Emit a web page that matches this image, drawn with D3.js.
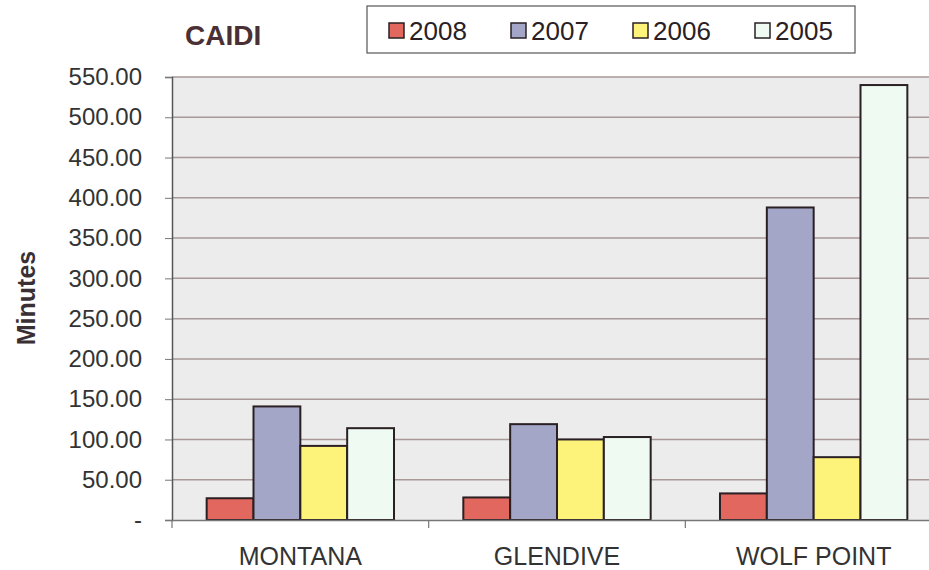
<!DOCTYPE html>
<html>
<head>
<meta charset="utf-8">
<script src="https://cdn.jsdelivr.net/npm/d3@7"></script>
<style>
  body { margin: 0; background: #fff; }
  text { font-family: "Liberation Sans", Arial, sans-serif; }
</style>
</head>
<body>
<svg id="chart"></svg>
<script>
var width = 929;
var height = 570;

var categories = ['MONTANA', 'GLENDIVE', 'WOLF POINT'];
var seriesNames = ['2008', '2007', '2006', '2005'];
var values2008 = [27, 28, 33];
var values2007 = [141, 119, 388];
var values2006 = [92, 100, 78];
var values2005 = [114, 103, 540];
var yTicks = [0, 50, 100, 150, 200, 250, 300, 350, 400, 450, 500, 550];

var seriesValues = [values2008, values2007, values2006, values2005];
var colors = ['#e2675f', '#a3a6c7', '#fdf27a', '#eefaf2'];

var plot = {left: 172, right: 942, top: 77, bottom: 520};

var svg = d3.select('#chart')
  .attr('width', width)
  .attr('height', height);

// plot background
svg.append('rect')
  .attr('x', plot.left)
  .attr('y', plot.top)
  .attr('width', plot.right - plot.left)
  .attr('height', plot.bottom - plot.top)
  .attr('fill', '#ececec');

var x = d3.scaleBand()
  .domain(categories)
  .range([plot.left, plot.right]);

var xInner = d3.scaleBand()
  .domain(seriesNames)
  .range([0, x.bandwidth()])
  .paddingOuter(0.74);

var y = d3.scaleLinear()
  .domain([0, 550])
  .range([plot.bottom, plot.top]);

// gridlines
svg.append('g')
  .selectAll('line')
  .data(yTicks.slice(1))
  .enter().append('line')
  .attr('x1', plot.left)
  .attr('x2', plot.right)
  .attr('y1', function (d) { return y(d); })
  .attr('y2', function (d) { return y(d); })
  .attr('stroke', '#a89898')
  .attr('stroke-width', 1.5);

// bars
var groups = svg.append('g')
  .selectAll('g')
  .data(categories)
  .enter().append('g')
  .attr('transform', function (d) { return 'translate(' + x(d) + ',0)'; });

groups.selectAll('rect')
  .data(function (d, i) {
      return seriesNames.map(function (s, j) {
          return {series: s, value: seriesValues[j][i], color: colors[j]};
      });
  })
  .enter().append('rect')
  .attr('x', function (d) { return xInner(d.series); })
  .attr('width', xInner.bandwidth())
  .attr('y', function (d) { return y(d.value); })
  .attr('height', function (d) { return y(0) - y(d.value); })
  .attr('fill', function (d) { return d.color; })
  .attr('stroke', '#2a2024')
  .attr('stroke-width', 2);

// y axis
var yAxis = svg.append('g')
  .attr('transform', 'translate(' + plot.left + ',0)')
  .call(d3.axisLeft(y)
    .tickValues(yTicks)
    .tickSize(7)
    .tickPadding(23)
    .tickFormat(function (d) { return d === 0 ? '-' : d3.format('.2f')(d); }));
yAxis.select('.domain').attr('stroke', '#555').attr('stroke-width', 1.5);
yAxis.selectAll('.tick line').attr('stroke', '#777');
yAxis.selectAll('.tick text')
  .attr('font-size', 24)
  .attr('fill', '#333')
  .style('font-family', '"Liberation Sans", Arial, sans-serif');

// x axis
var xAxis = svg.append('g')
  .attr('transform', 'translate(0,' + plot.bottom + ')')
  .call(d3.axisBottom(x).tickSize(0).tickPadding(27));
xAxis.select('.domain').attr('stroke', '#777').attr('stroke-width', 1.5);
xAxis.selectAll('.tick text')
  .attr('font-size', 25)
  .attr('fill', '#333')
  .style('font-family', '"Liberation Sans", Arial, sans-serif');

// category separators
svg.append('g')
  .selectAll('line')
  .data(categories)
  .enter().append('line')
  .attr('x1', function (d) { return x(d); })
  .attr('x2', function (d) { return x(d); })
  .attr('y1', plot.bottom)
  .attr('y2', plot.bottom + 8)
  .attr('stroke', '#777')
  .attr('stroke-width', 1.2);

// y title
svg.append('text')
  .attr('transform', 'translate(35,298) rotate(-90)')
  .attr('text-anchor', 'middle')
  .attr('font-size', 25)
  .attr('font-weight', 'bold')
  .attr('fill', '#3a3034')
  .text('Minutes');

// chart title
svg.append('text')
  .attr('x', 185)
  .attr('y', 45)
  .attr('font-size', 28)
  .attr('font-weight', 'bold')
  .attr('fill', '#4a3034')
  .text('CAIDI');

// legend
svg.append('rect')
  .attr('x', 367)
  .attr('y', 6)
  .attr('width', 488)
  .attr('height', 47)
  .attr('fill', '#fff')
  .attr('stroke', '#555')
  .attr('stroke-width', 1.2);

var legendX = [389, 511, 633, 755];
var legend = svg.append('g')
  .selectAll('g')
  .data(seriesNames)
  .enter().append('g')
  .attr('transform', function (d, i) { return 'translate(' + legendX[i] + ',0)'; });

legend.append('rect')
  .attr('x', 0)
  .attr('y', 23)
  .attr('width', 15)
  .attr('height', 15)
  .attr('fill', function (d, i) { return colors[i]; })
  .attr('stroke', '#2a2024')
  .attr('stroke-width', 1.5);

legend.append('text')
  .attr('x', 20)
  .attr('y', 40)
  .attr('font-size', 26)
  .attr('fill', '#2a2024')
  .text(function (d) { return d; });
</script>
</body>
</html>
